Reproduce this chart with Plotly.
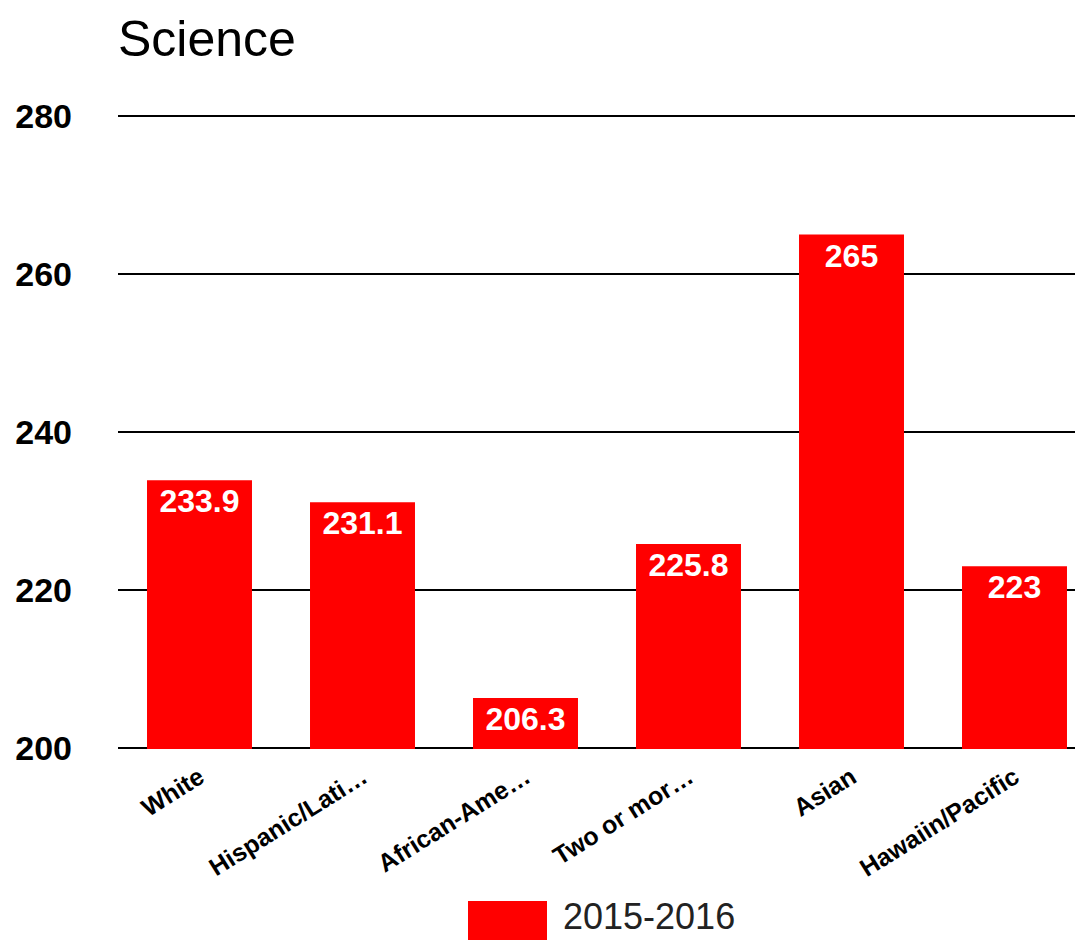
import plotly.graph_objects as go

categories = ["White", "Hispanic/Lati…", "African-Ame…", "Two or mor…", "Asian", "Hawaiin/Pacific"]
values = [233.9, 231.1, 206.3, 225.8, 265, 223]
labels = ["233.9", "231.1", "206.3", "225.8", "265", "223"]
series_name = "2015-2016"
y_ticks = [200, 220, 240, 260, 280]

FONT = "Liberation Sans, Arial, sans-serif"

# figure is drawn with an 8px page offset; margins below are in figure pixels
W, H = 1088, 940
L, R, T, B = 110, 0, 107, 199
PW, PH = W - L - R, H - T - B

fig = go.Figure()
fig.add_trace(go.Bar(
    x=categories, y=values, name=series_name,
    marker=dict(color="#ff0000", line=dict(width=0)),
    text=labels, textposition="inside", insidetextanchor="end",
    textfont=dict(family=FONT, size=32, color="white", weight="bold"),
    textangle=0, cliponaxis=False, showlegend=False,
))

fig.update_layout(
    width=W, height=H,
    margin=dict(l=L, r=R, t=T, b=B),
    plot_bgcolor="white", paper_bgcolor="white",
    bargap=0.356,
    uniformtext=dict(minsize=10, mode="show"),
    title=dict(text="Science", x=L/W, xanchor="left", y=1-30/H, yanchor="middle",
               font=dict(family=FONT, size=50, color="black")),
    xaxis=dict(tickangle=-32, showgrid=False, showline=False, ticks="", automargin=False,
               ticklabelstandoff=8,
               tickfont=dict(family=FONT, size=25, color="black", weight="bold")),
    yaxis=dict(range=[199.85, 280.15], tickvals=y_ticks, showgrid=True, gridcolor="black", gridwidth=2,
               zeroline=False, showline=False, ticks="", ticklabelstandoff=45, automargin=False,
               tickfont=dict(family=FONT, size=34, color="black", weight="bold")),
)

# Legend swatch and label
fig.add_shape(type="rect", xref="paper", yref="paper",
              x0=(460-L)/PW, x1=(539-L)/PW, y0=-B/PH, y1=-(893-(T+PH))/PH,
              fillcolor="#ff0000", line=dict(width=0))
fig.add_annotation(xref="paper", yref="paper", x=(553-L)/PW, y=-(908-(T+PH))/PH,
                   text=series_name, showarrow=False, xanchor="left", yanchor="middle",
                   font=dict(family=FONT, size=36, color="#222222"))

fig.write_html("out.html")
